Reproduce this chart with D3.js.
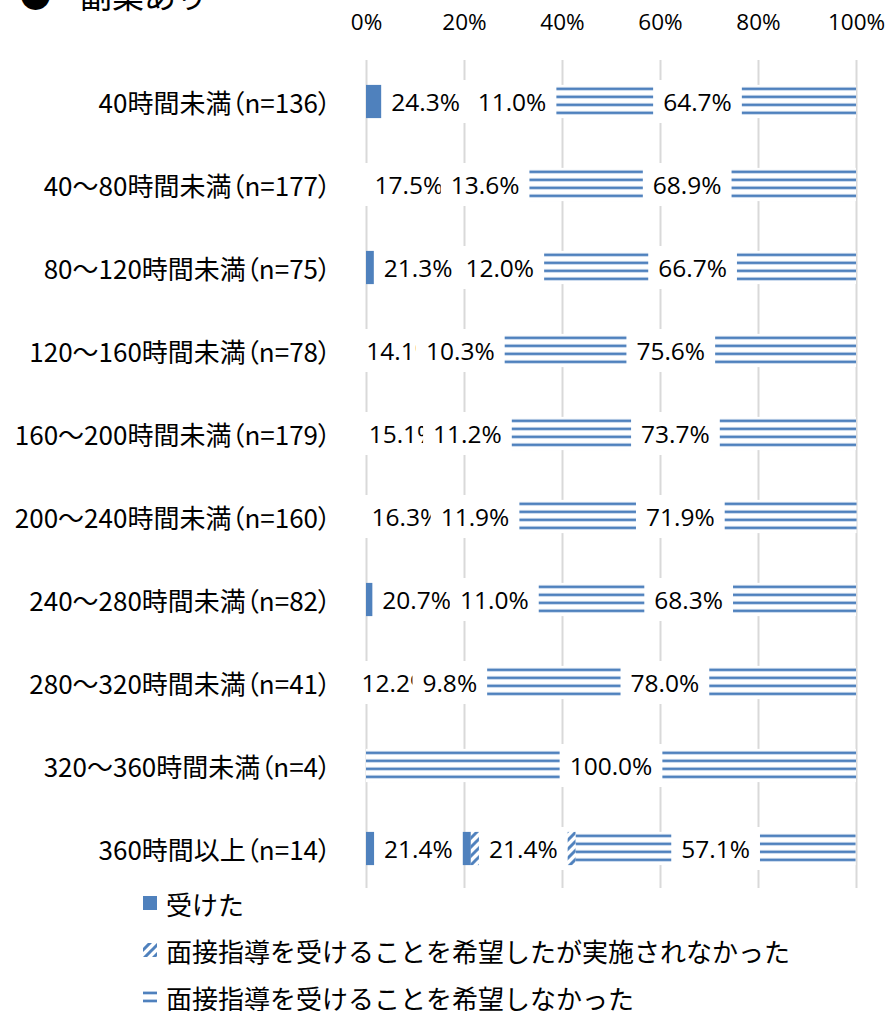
<!DOCTYPE html>
<html>
<head>
<meta charset="utf-8">
<script src="https://cdn.jsdelivr.net/npm/d3@7"></script>
<style>
  body { margin: 0; background: #fff; }
  svg { display: block; }
</style>
</head>
<body>
<svg id="chart" width="888" height="1011"></svg>
<script>
// data
const categories = [
  "40時間未満（n=136）",
  "40〜80時間未満（n=177）",
  "80〜120時間未満（n=75）",
  "120〜160時間未満（n=78）",
  "160〜200時間未満（n=179）",
  "200〜240時間未満（n=160）",
  "240〜280時間未満（n=82）",
  "280〜320時間未満（n=41）",
  "320〜360時間未満（n=4）",
  "360時間以上（n=14）"
];
const received    = [24.3, 17.5, 21.3, 14.1, 15.1, 16.3, 20.7, 12.2, 0, 21.4];
const hopedNotMet = [11.0, 13.6, 12.0, 10.3, 11.2, 11.9, 11.0, 9.8, 0, 21.4];
const notHoped    = [64.7, 68.9, 66.7, 75.6, 73.7, 71.9, 68.3, 78.0, 100.0, 57.1];
const seriesNames = [
  "受けた",
  "面接指導を受けることを希望したが実施されなかった",
  "面接指導を受けることを希望しなかった"
];
const tickValues = [0, 20, 40, 60, 80, 100];

const keys = ["received", "hopedNotMet", "notHoped"];
const table = categories.map((c, i) => ({
  cat: c, received: received[i], hopedNotMet: hopedNotMet[i], notHoped: notHoped[i]
}));

const blue = "#4f81bd";
const jp = "'Noto Sans CJK JP', 'Noto Sans', sans-serif";
const num = "'Open Sans', 'Noto Sans', sans-serif";

const svg = d3.select("#chart");

//patterns
const defs = svg.append("defs");
const hatch = defs.append("pattern")
  .attr("id", "hatch").attr("patternUnits", "userSpaceOnUse")
  .attr("width", 9).attr("height", 9);
hatch.append("rect").attr("width", 9).attr("height", 9).attr("fill", "#fff");
hatch.append("path")
  .attr("d", "M-2,2 L2,-2 M0,9 L9,0 M7,11 L11,7")
  .attr("stroke", blue).attr("stroke-width", 3);

const lines = defs.append("pattern")
  .attr("id", "lines").attr("patternUnits", "userSpaceOnUse")
  .attr("width", 8).attr("height", 8);
lines.append("rect").attr("width", 8).attr("height", 8).attr("fill", "#fff");
lines.append("rect").attr("y", 2).attr("width", 8).attr("height", 1).attr("fill", "#b9cde5");
lines.append("rect").attr("y", 3).attr("width", 8).attr("height", 2).attr("fill", blue);
lines.append("rect").attr("y", 5).attr("width", 8).attr("height", 1).attr("fill", "#c6d7ec");

const fills = [blue, "url(#hatch)", "url(#lines)"];

//scales
const x = d3.scaleLinear().domain([0, 100]).range([366, 856]);
const y = d3.scaleBand().domain(categories).range([60, 890])
  .paddingInner(0.6).paddingOuter(0.3);

//title (cut off at the top)
svg.append("text").attr("x", 35.5).attr("y", 8)
  .attr("text-anchor", "middle")
  .attr("font-family", jp).attr("font-size", 32).text("●");
svg.append("text").attr("x", 80).attr("y", 8)
  .attr("font-family", jp).attr("font-size", 32).text("副業あり");

//gridlines
svg.append("g")
  .attr("transform", "translate(0,888)")
  .call(d3.axisBottom(x).tickValues(tickValues).tickSize(-(888 - 60)).tickFormat(""))
  .call(g => g.select(".domain").remove())
  .call(g => g.selectAll("line").attr("stroke", "#d9d9d9").attr("stroke-width", 2));

//top tick labels
svg.append("g")
  .attr("transform", "translate(0,30)")
  .call(d3.axisTop(x).tickValues(tickValues).tickSize(0).tickFormat(d => d + "%"))
  .call(g => g.select(".domain").remove())
  .call(g => g.selectAll("text")
    .attr("y", 0).attr("dy", null)
    .attr("font-family", num).attr("font-size", 22.5).attr("fill", "#000"));

//category labels
svg.append("g")
  .attr("transform", "translate(366,0)")
  .call(d3.axisLeft(y).tickSize(0).tickPadding(35))
  .call(g => g.select(".domain").remove())
  .call(g => g.selectAll("text")
    .attr("dy", null)
    .attr("dominant-baseline", "central")
    .attr("font-family", jp).attr("font-size", 26)
    .style("font-feature-settings", "'palt'")
    .attr("fill", "#000"));

//stacked bars
const stacked = d3.stack().keys(keys)(table);

const rows = svg.append("g").selectAll(".row")
  .data(table.map((d, i) => i))
  .join("g")
  .attr("class", "row")
  .attr("transform", i => `translate(0,${y(categories[i])})`);

rows.each(function (i) {
  const row = d3.select(this);
  stacked.forEach((layer, k) => {
    const d = layer[i];
    if (d[1] - d[0] <= 0) return;
    row.append("rect")
      .attr("x", x(d[0]))
      .attr("y", 0)
      .attr("width", x(d[1]) - x(d[0]))
      .attr("height", y.bandwidth())
      .attr("fill", fills[k]);
  });
});

//data labels with white boxes
rows.each(function (i) {
  const row = d3.select(this);
  const cy = y.bandwidth() / 2;
  stacked.forEach((layer, k) => {
    const d = layer[i];
    const v = d[1] - d[0];
    if (v <= 0) return;
    const cx = x((d[0] + d[1]) / 2);
    const box = row.append("rect").attr("fill", "#fff");
    const t = row.append("text")
      .attr("x", cx).attr("y", cy)
      .attr("text-anchor", "middle")
      .attr("dominant-baseline", "central")
      .attr("font-family", num).attr("font-size", 24.5)
      .attr("fill", "#000")
      .text(table[i][keys[k]].toFixed(1) + "%");
    const w = t.node().getComputedTextLength();
    box.attr("x", cx - w / 2 - 10).attr("y", cy - 21.5)
      .attr("width", w + 20).attr("height", 43);
  });
});

//legend
const legend = svg.append("g").selectAll("g")
  .data(seriesNames)
  .join("g")
  .attr("transform", (d, k) => `translate(143,${903 + k * 47})`);

legend.append("rect")
  .attr("x", 0).attr("y", -7)
  .attr("width", 14).attr("height", 14)
  .attr("fill", (d, k) => fills[k]);

legend.append("text")
  .attr("x", 23).attr("y", 0)
  .attr("dominant-baseline", "central")
  .attr("font-family", jp).attr("font-size", 26)
  .attr("fill", "#000")
  .text(d => d);
</script>
</body>
</html>
